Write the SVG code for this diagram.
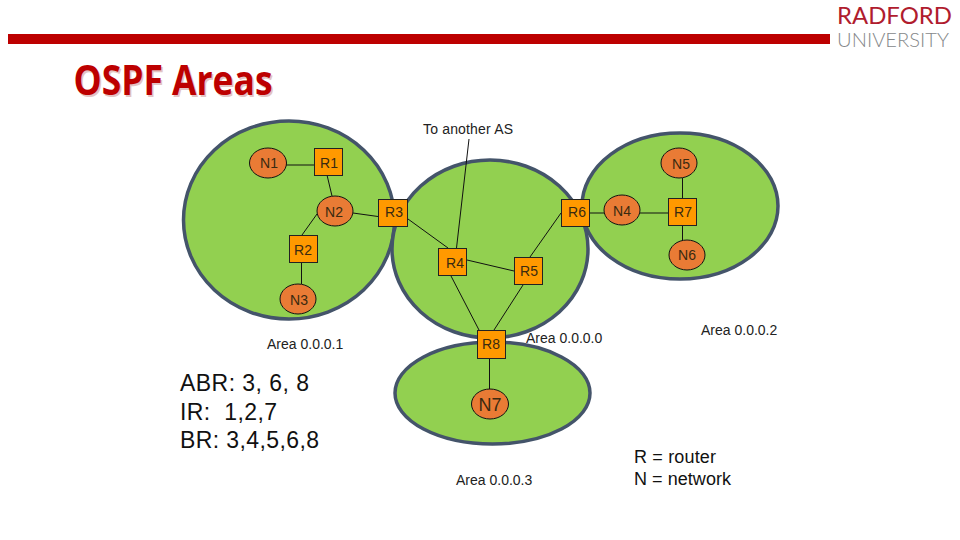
<svg xmlns="http://www.w3.org/2000/svg" width="960" height="540" viewBox="0 0 960 540">
<style>
.a{fill:#92d050;stroke:#44546a;stroke-width:3.5}
.n{fill:#e97b35;stroke:#111;stroke-width:1}
.r{fill:#ff9900;stroke:#222;stroke-width:1}
.l{fill:#3a2a10;font:14px "Liberation Sans",Arial,sans-serif;text-anchor:middle}
.t{fill:#222;font:14px "Liberation Sans",Arial,sans-serif}
.b{fill:#111;font:23px "Liberation Sans",Arial,sans-serif}
.k{fill:#111;font:18px "Liberation Sans",Arial,sans-serif}
#c line{stroke:#111;stroke-width:1}
.h{font:bold 41px "Open Sans","DejaVu Sans",sans-serif}
.logo{font-family:"Lato","Liberation Sans",Arial,sans-serif}
</style>
<rect id="bar" x="8" y="34" width="822" height="10" fill="#bd0000"/>
<text class="logo" x="837" y="24" font-size="23" fill="#b01c2e" textLength="115" lengthAdjust="spacingAndGlyphs">RADFORD</text>
<text class="logo" x="837" y="47" font-size="20" font-weight="300" fill="#85888a" textLength="112" lengthAdjust="spacingAndGlyphs">UNIVERSITY</text>
<text class="h" x="75" y="96.500" fill="#e3c4c4" textLength="199" lengthAdjust="spacingAndGlyphs">OSPF Areas</text>
<text class="h" x="73.500" y="95" fill="#bd0000" textLength="199" lengthAdjust="spacingAndGlyphs">OSPF Areas</text>
<g id="areas">
<ellipse id="area1" class="a" cx="289" cy="220" rx="105.500" ry="99"/>
<ellipse id="area0" class="a" cx="490" cy="249" rx="98" ry="89"/>
<ellipse id="area2" class="a" cx="680" cy="206" rx="98" ry="73"/>
<ellipse id="area3" class="a" cx="492.500" cy="393" rx="97.500" ry="51"/>
</g>
<g id="c">
<line x1="286" y1="165" x2="315" y2="165"/>
<line x1="327" y1="175" x2="332" y2="196"/>
<line x1="353" y1="213" x2="378" y2="216.500"/>
<line x1="317" y1="214" x2="302" y2="235"/>
<line x1="301.500" y1="263" x2="301.500" y2="284"/>
<line x1="408" y1="219" x2="448" y2="248"/>
<line x1="469" y1="139" x2="456.500" y2="248"/>
<line x1="467" y1="260" x2="514" y2="271"/>
<line x1="451" y1="276" x2="479" y2="330"/>
<line x1="523" y1="285" x2="494" y2="330"/>
<line x1="530" y1="257" x2="561" y2="213"/>
<line x1="590" y1="213" x2="604" y2="213"/>
<line x1="640" y1="213" x2="668" y2="213"/>
<line x1="682.500" y1="178" x2="682.500" y2="198"/>
<line x1="682.500" y1="226" x2="682.500" y2="240"/>
<line x1="489.500" y1="359" x2="489.500" y2="389"/>
</g>
<g id="N1"><ellipse class="n" cx="268" cy="163" rx="18.500" ry="15"/><text class="l" x="269" y="168">N1</text></g>
<g id="N2"><ellipse class="n" cx="335" cy="211" rx="18" ry="15"/><text class="l" x="334" y="217">N2</text></g>
<g id="N3"><ellipse class="n" cx="298" cy="299" rx="18" ry="15"/><text class="l" x="299" y="305">N3</text></g>
<g id="N4"><ellipse class="n" cx="622" cy="210" rx="18" ry="15"/><text class="l" x="622" y="216">N4</text></g>
<g id="N5"><ellipse class="n" cx="679" cy="163" rx="18" ry="15"/><text class="l" x="681" y="169">N5</text></g>
<g id="N6"><ellipse class="n" cx="687" cy="255" rx="18" ry="15"/><text class="l" x="687" y="260">N6</text></g>
<g id="N7"><ellipse class="n" cx="490" cy="404" rx="18.500" ry="15"/><text class="l" x="490" y="411" style="font-size:18px">N7</text></g>
<g id="R1"><rect class="r" x="314.500" y="148.500" width="28" height="27"/><text class="l" x="329" y="168">R1</text></g>
<g id="R2"><rect class="r" x="289.500" y="235.500" width="28" height="27"/><text class="l" x="303" y="255">R2</text></g>
<g id="R3"><rect class="r" x="378.500" y="199.500" width="29" height="27"/><text class="l" x="394" y="217">R3</text></g>
<g id="R4"><rect class="r" x="438.500" y="248.500" width="28" height="27"/><text class="l" x="455" y="268">R4</text></g>
<g id="R5"><rect class="r" x="514.500" y="257.500" width="28" height="27"/><text class="l" x="529" y="276">R5</text></g>
<g id="R6"><rect class="r" x="561.500" y="199.500" width="28" height="27"/><text class="l" x="577" y="217">R6</text></g>
<g id="R7"><rect class="r" x="668.500" y="198.500" width="28" height="27"/><text class="l" x="683" y="217">R7</text></g>
<g id="R8"><rect class="r" x="477.500" y="330.500" width="28" height="28"/><text class="l" x="491" y="349">R8</text></g>
<text class="t" x="423" y="134" textLength="90">To another AS</text>
<text class="t" x="267" y="349">Area 0.0.0.1</text>
<text class="t" x="526" y="343">Area 0.0.0.0</text>
<text class="t" x="701" y="335">Area 0.0.0.2</text>
<text class="t" x="456" y="485">Area 0.0.0.3</text>
<text class="b" x="180" y="391" textLength="129">ABR: 3, 6, 8</text>
<text class="b" x="180" y="420" textLength="97" xml:space="preserve">IR:  1,2,7</text>
<text class="b" x="180" y="448" textLength="139">BR: 3,4,5,6,8</text>
<text class="k" x="634" y="463" textLength="82">R = router</text>
<text class="k" x="634" y="485" textLength="97">N = network</text>
</svg>
